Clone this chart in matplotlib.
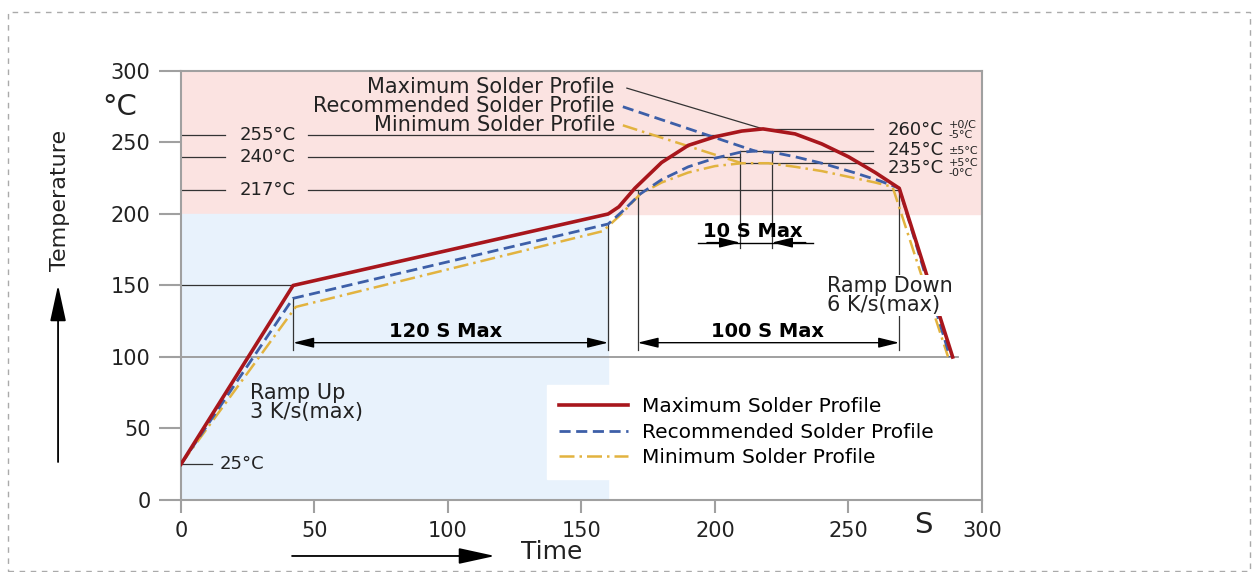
import matplotlib
matplotlib.use("Agg")
import matplotlib.pyplot as plt
from matplotlib.patches import Rectangle

plt.rcParams['font.family'] = ['DejaVu Sans']

# profile data (time in s, temperature in degC)
time_max = [0, 42, 160, 164, 170, 180, 190, 200, 210, 218, 230, 240, 250, 260, 269, 289]
temp_max = [25, 150, 200, 205, 218, 236, 248, 254, 258, 259.5, 256, 249, 240, 229, 218, 100]
time_rec = [0, 42, 160, 166, 172, 180, 190, 200, 209, 215, 222, 230, 240, 252, 262, 269, 288]
temp_rec = [25, 141, 193, 203, 214, 224, 233, 239, 243, 244, 243, 240, 235.5, 229, 223, 218, 100]
time_min = [0, 43, 158, 165, 172, 180, 190, 200, 210, 220, 230, 240, 250, 260, 266.5, 287.3]
temp_min = [25, 135, 188, 200, 214, 222, 229, 233.5, 235.5, 235.5, 233, 230, 226, 222, 219, 100]

series_names = ['Maximum Solder Profile', 'Recommended Solder Profile', 'Minimum Solder Profile']
ref_temps = [255, 240, 217]
peak_main = ['260°C', '245°C', '235°C']
peak_sup = ['+0/C', '', '+5°C']
peak_sub = ['-5°C', '±5°C', '-0°C']
peak_levels = [259.5, 244, 236]

red = '#a8161c'
blue = '#3d5fa8'
yellow = '#e2b33f'
txt = '#222222'

fig = plt.figure(figsize=(12.54, 5.72), dpi=100)
ax = fig.add_axes([0.1443, 0.1259, 0.6388, 0.75])
ax.set_xlim(0, 300)
ax.set_ylim(0, 300)

# zone shading
ax.fill_between([0, 300], 200, 300, color='#fbe3e1', zorder=0)
ax.fill_between([0, 160], 0, 200, color='#e8f2fc', zorder=0)

# reference lines
ax.plot([0, 291], [100, 100], color='#999999', lw=1.3, zorder=1)
ax.plot([0, 42], [150, 150], color='#333333', lw=0.9, zorder=1)
ax.plot([0, 11.6], [25, 25], color='#333333', lw=0.9)
ax.text(14.6, 25, '25°C', fontsize=13, va='center', color=txt)

ref_ends = [201, 209.4, 269]
for t, xe in zip(ref_temps, ref_ends):
    ax.plot([0, 16.5], [t, t], color='#333333', lw=0.9, zorder=1)
    ax.plot([47.6, xe], [t, t], color='#333333', lw=0.9, zorder=1)
    ax.text(32.6, t, '%d°C' % t, fontsize=13, ha='center', va='center', color=txt)

# peak lines on the right
peak_starts = [218, 209.4, 210]
peak_text_y = [259, 245, 232]
for i in range(3):
    lvl = peak_levels[i]
    ax.plot([peak_starts[i], 259], [lvl, lvl], color='#333333', lw=0.9, zorder=1)
    ty = peak_text_y[i]
    ax.text(264.5, ty, peak_main[i], fontsize=13, va='center', color=txt)
    if peak_sup[i]:
        ax.text(287.5, ty + 3.5, peak_sup[i], fontsize=8, va='center', color=txt)
        ax.text(287.5, ty - 3.5, peak_sub[i], fontsize=8, va='center', color=txt)
    else:
        ax.text(287.5, ty - 1.2, peak_sub[i], fontsize=8, va='center', color=txt)

# profiles
dash_rec = (0, (4, 2))
dash_min = (0, (6, 2, 1, 2))
ax.plot(time_max, temp_max, color=red, lw=2.6, label=series_names[0], zorder=5)
ax.plot(time_rec, temp_rec, color=blue, lw=2.0, ls=dash_rec, label=series_names[1], zorder=4)
ax.plot(time_min, temp_min, color=yellow, lw=1.8, ls=dash_min, label=series_names[2], zorder=3)

# pointers from the top-left labels
ax.plot([167, 218], [288, 259.5], color='#333333', lw=0.9)
ax.plot([165.5, 215], [275, 244], color=blue, lw=2.0, ls=dash_rec)
ax.plot([165.5, 210], [262, 235.5], color=yellow, lw=1.8, ls=dash_min)
for name, y in zip(series_names, [289, 275.5, 262]):
    ax.text(162.5, y, name, fontsize=15, ha='right', va='center', color=txt)

# dimension arrows
arr = dict(arrowstyle='<|-|>,head_length=0.9,head_width=0.22', color='black', lw=1, mutation_scale=14,
           shrinkA=0, shrinkB=0)
one = dict(arrowstyle='-|>,head_length=0.9,head_width=0.22', color='black', lw=1, mutation_scale=14,
           shrinkA=0, shrinkB=0)
# 120 S Max
ax.plot([42, 42], [141, 105], color='#333333', lw=0.9)
ax.plot([160, 160], [193, 105], color='#333333', lw=0.9)
ax.annotate('', xy=(160, 110), xytext=(42, 110), arrowprops=arr)
ax.text(99, 117.5, '120 S Max', fontsize=14, fontweight='bold', ha='center', va='center')
# 100 S Max
ax.plot([171, 171], [217, 105], color='#333333', lw=0.9)
ax.plot([269, 269], [217, 105], color='#333333', lw=0.9)
ax.annotate('', xy=(269, 110), xytext=(171, 110), arrowprops=arr)
ax.text(219.5, 117.5, '100 S Max', fontsize=14, fontweight='bold', ha='center', va='center')
# 10 S Max
ax.plot([209.4, 209.4], [244, 176], color='#333333', lw=0.9)
ax.plot([221.3, 221.3], [244, 176], color='#333333', lw=0.9)
ax.plot([193.6, 236.7], [180, 180], color='black', lw=1)
ax.annotate('', xy=(209.4, 180), xytext=(197, 180), arrowprops=one)
ax.annotate('', xy=(221.3, 180), xytext=(234, 180), arrowprops=one)
ax.text(214, 188, '10 S Max', fontsize=14, fontweight='bold', ha='center', va='center')

ax.text(26, 68, 'Ramp Up\n3 K/s(max)', fontsize=15, va='center', linespacing=0.95, color=txt)
ax.text(242, 143, 'Ramp Down\n6 K/s(max)', fontsize=15, va='center', linespacing=0.95, color=txt,
        zorder=6, bbox=dict(facecolor='white', edgecolor='none', pad=0.5))

# axes styling
for s in ax.spines.values():
    s.set_color('#a0a0a0')
    s.set_linewidth(1.5)
ax.set_xticks(range(0, 301, 50))
ax.set_yticks(range(0, 301, 50))
ax.tick_params(axis='y', direction='out', length=16, width=1.5, color='#a0a0a0', labelsize=15,
               labelcolor=txt, pad=6)
ax.tick_params(axis='x', direction='out', length=9, width=1.5, color='#a0a0a0', labelsize=15,
               labelcolor=txt, pad=6)

ax.legend(loc='upper left', bbox_to_anchor=(0.4445, 0.291), fontsize=14.5, frameon=True,
          fancybox=False, edgecolor='white', framealpha=1, handlelength=3.4,
          labelspacing=0.32, borderpad=0.6, handletextpad=0.7)

# outer labels and arrows
fig.text(0.0957, 0.813, '°C', fontsize=21, ha='center', va='center', color=txt)
fig.text(0.736, 0.082, 'S', fontsize=21, ha='center', va='center', color=txt)
fig.text(0.048, 0.65, 'Temperature', fontsize=16, rotation=90, ha='center', va='center', color=txt)
fig.text(0.44, 0.035, 'Time', fontsize=18, ha='center', va='center', color=txt)
big = dict(arrowstyle='-|>,head_length=1.6,head_width=0.35', color='black', lw=1.3, mutation_scale=14,
           shrinkA=0, shrinkB=0)
ax.annotate('', xy=(0.0463, 0.5017), xytext=(0.0463, 0.1923), xycoords='figure fraction',
            textcoords='figure fraction', arrowprops=big)
ax.annotate('', xy=(0.3947, 0.028), xytext=(0.2329, 0.028), xycoords='figure fraction',
            textcoords='figure fraction', arrowprops=big)

# dashed frame around the figure
fig.patches.append(Rectangle((8 / 1254, 1 / 572), 1242 / 1254, 559 / 572, transform=fig.transFigure,
                             fill=False, edgecolor='#aaaaaa', ls=(0, (4, 4)), lw=1))

fig.savefig('out.png', dpi=100)
